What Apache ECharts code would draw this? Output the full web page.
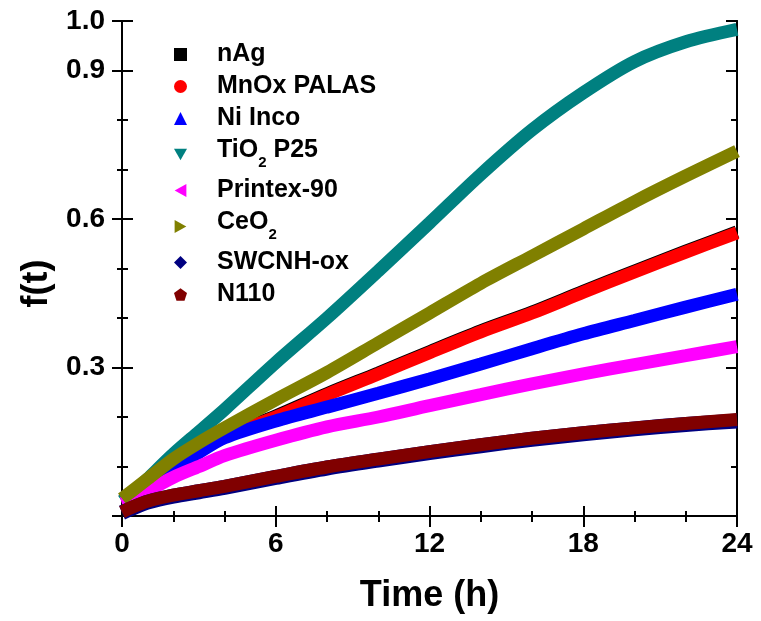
<!DOCTYPE html>
<html><head><meta charset="utf-8">
<script src="https://cdn.jsdelivr.net/npm/echarts@6/dist/echarts.min.js"></script>
<style>html,body{margin:0;padding:0;background:#fff}#c{width:761px;height:621px}</style>
</head><body><div id="c"></div>
<script>
// ---- data ----
const times   = [0, 0.5, 1, 2, 3, 4, 6, 8, 10, 12, 14, 16, 18, 20, 22, 24];
const nAg     = [0.031,0.046,0.061,0.096,0.131,0.161,0.202,0.247,0.289,0.332,0.374,0.412,0.454,0.495,0.535,0.574];
const mnOx    = [0.03,0.045,0.06,0.095,0.13,0.16,0.2,0.245,0.287,0.33,0.372,0.41,0.452,0.493,0.533,0.572];
const niInco  = [0.03,0.045,0.06,0.095,0.128,0.158,0.192,0.22,0.248,0.277,0.307,0.338,0.368,0.395,0.422,0.448];
const tio2    = [0.03,0.05,0.075,0.125,0.17,0.215,0.31,0.4,0.495,0.592,0.69,0.78,0.855,0.918,0.958,0.983];
const printex = [0.025,0.035,0.05,0.078,0.1,0.122,0.153,0.18,0.2,0.223,0.245,0.267,0.287,0.306,0.324,0.342];
const ceo2    = [0.035,0.055,0.075,0.115,0.148,0.178,0.235,0.29,0.35,0.41,0.47,0.525,0.58,0.635,0.687,0.737];
const swcnh   = [0.007,0.018,0.028,0.04,0.049,0.058,0.078,0.097,0.113,0.128,0.142,0.155,0.166,0.176,0.185,0.192];
const n110    = [0.008,0.02,0.03,0.042,0.051,0.06,0.08,0.099,0.115,0.13,0.144,0.157,0.168,0.178,0.187,0.195];

const seriesNames = ['nAg','MnOx PALAS','Ni Inco','TiO2 P25','Printex-90','CeO2','SWCNH-ox','N110'];
const seriesData  = [nAg, mnOx, niInco, tio2, printex, ceo2, swcnh, n110];
const colors      = ['#000000','#ff0000','#0000ff','#008080','#ff00ff','#808000','#000080','#800000'];
const icons = ['rect','circle','triangle',
  'path://M0,0 L10,0 L5,9 Z',
  'path://M9,0 L9,10 L0,5 Z',
  'path://M0,0 L9,5 L0,10 Z',
  'diamond',
  'path://M5,0 L10,3.6 L8.1,9.5 L1.9,9.5 L0,3.6 Z'];
const legendRich = {
  'TiO2 P25': '{a|TiO}{s|2}{a| P25}',
  'CeO2': '{a|CeO}{s|2}'
};
const xTickInterval = 6;
const yLabelValues = [0.3, 0.6, 0.9, 1.0];

// ---- chart ----
const FONT = 'Liberation Sans';
const black = '#000';
const lineS = {show:true, lineStyle:{color:black, width:2}};
function xAx(o){
  return Object.assign({type:'value', min:0, max:24, interval:xTickInterval,
    splitLine:{show:false}, axisLine:lineS, axisLabel:{show:false}}, o);
}
function yAx(o){
  return Object.assign({type:'value', min:0, max:1,
    splitLine:{show:false}, axisLine:lineS, axisLabel:{show:false}}, o);
}
function tick(inside, len){ return {show:true, inside:inside, length:len, lineStyle:{color:black, width:2}}; }
function minor(len){ return {show:true, splitNumber:3, length:len, lineStyle:{color:black, width:2}}; }

const chart = echarts.init(document.getElementById('c'), null, {renderer:'canvas'});
chart.setOption({
  animation:false,
  backgroundColor:'#fff',
  grid:{left:122, right:24, top:21, bottom:105, containLabel:false},
  xAxis:[
    xAx({position:'bottom', axisTick:tick(false,11), minorTick:minor(6),
      axisLabel:{show:true, fontSize:28, fontWeight:'bold', color:black, fontFamily:FONT, margin:14},
      name:'Time (h)', nameLocation:'middle', nameGap:62,
      nameTextStyle:{fontSize:36, fontWeight:'bold', color:black, fontFamily:FONT}}),
    xAx({position:'bottom', axisTick:tick(true,10), minorTick:minor(5)}),
    xAx({position:'top', axisTick:tick(true,10), minorTick:minor(5)})
  ],
  yAxis:[
    yAx({position:'left', interval:0.3, axisTick:tick(false,10),
      axisLabel:{show:true, fontSize:28, fontWeight:'bold', color:black, fontFamily:FONT, margin:17,
        formatter:function(v){
          const ok = yLabelValues.some(function(u){return Math.abs(u-v)<1e-6;});
          return ok ? v.toFixed(1) : '';
        }},
      name:'f(t)', nameLocation:'middle', nameGap:67,
      nameTextStyle:{fontSize:36, fontWeight:'bold', color:black, fontFamily:FONT, padding:[0,30,0,0]}}),
    yAx({position:'left', interval:0.3, axisTick:tick(true,11)}),
    yAx({position:'left', interval:0.1, axisTick:tick(false,5)}),
    yAx({position:'left', interval:0.1, axisTick:tick(true,6)}),
    yAx({position:'right', interval:0.3, axisTick:tick(true,11)}),
    yAx({position:'right', interval:0.1, axisTick:tick(true,6)})
  ],
  legend:{
    orient:'vertical', left:169, top:37, itemWidth:13, itemHeight:13, itemGap:7, padding:5,
    selectedMode:false,
    data: seriesNames.map(function(n,i){return {name:n, icon:icons[i]};}),
    formatter:function(n){ return legendRich[n] || n; },
    textStyle:{fontFamily:FONT, fontSize:25, fontWeight:'bold', color:black, padding:[0,0,0,25],
      rich:{
        a:{fontFamily:FONT, fontSize:25, fontWeight:'bold', color:black, lineHeight:25, padding:[0,0,8,0]},
        s:{fontFamily:FONT, fontSize:15, fontWeight:'bold', color:black, lineHeight:15, padding:[17,0,0,0]}
      }}
  },
  series: seriesNames.map(function(n,i){
    return {
      name:n, type:'line', xAxisIndex:0, yAxisIndex:0,
      data: times.map(function(t,k){return [t, seriesData[i][k]];}),
      showSymbol:false, symbol:'circle', smooth:0.3,
      color:colors[i],
      itemStyle:{color:colors[i]},
      lineStyle:{color:colors[i], width: (n==='SWCNH-ox' ? 15 : 13)},
      z: 2+i
    };
  })
});
</script></body></html>
